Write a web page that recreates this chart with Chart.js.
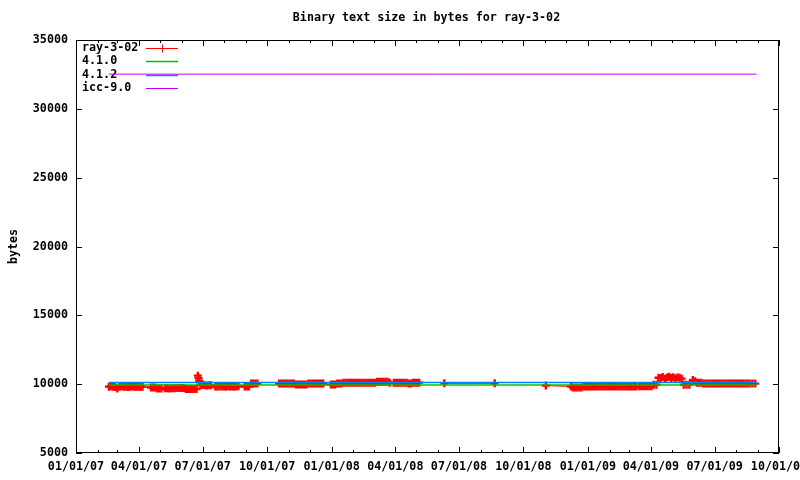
<!DOCTYPE html>
<html>
<head>
<meta charset="utf-8">
<script src="https://cdn.jsdelivr.net/npm/chart.js@4"></script>
<style>
  html, body { margin: 0; padding: 0; background: #fff; }
  canvas { display: block; }
</style>
</head>
<body>
<canvas id="chart" width="800" height="480"></canvas>
<script>
// x values are days since 01/01/07
const rayDays = [
  47,50,53,56,59,62,65,68,71,74,77,80,83,86,89,92,95,
  107,110,113,116,119,122,127,130,133,136,139,142,145,148,151,154,157,160,163,166,169,172,174,175,176,178,181,184,187,190,193,
  196,
  199,202,205,208,211,214,217,220,223,226,229,232,
  237,
  241,244,247,250,253,256,259,
  275,
  290,293,296,299,302,305,308,311,314,317,320,323,326,329,332,335,338,341,344,347,350,353,
  359,
  364,367,370,373,376,379,382,385,388,391,394,397,400,403,406,409,412,415,418,421,424,427,430,433,436,439,442,445,448,
  451,
  454,457,460,463,466,469,472,475,478,481,484,487,490,
  508,
  526,598,
  635,
  671,707,710,713,716,719,722,725,728,731,734,737,740,743,
  746,749,752,755,758,761,764,767,770,773,776,779,782,785,788,791,794,797,800,
  804,807,810,813,816,819,822,825,829,
  832,835,838,841,844,847,850,853,856,859,862,865,868,872,876,881,884,887,890,893,
  896,899,902,905,908,911,914,917,920,923,926,929,932,935,938,941,944,947,950,953,956,959,962,966,970
];
const rayBytes = [
  9820,9840,9820,9800,9680,9820,9840,9820,9820,9800,9820,9840,9820,9820,9820,9800,9820,
  9760,9760,9760,9690,9690,9690,9700,9700,9690,9700,9710,9700,9720,9720,9720,9720,9650,9640,9650,9650,9640,9650,10620,10440,10250,9920,9940,9920,9900,9920,9920,
  null,
  9830,9820,9840,9830,9830,9820,9840,9830,9830,9820,9830,9840,
  null,
  9830,9830,9830,10040,10040,10040,10040,
  null,
  10040,10040,10040,10040,10040,10040,10040,10040,9970,9970,9970,9970,9970,9970,10040,10040,10040,10040,10040,10040,10040,10040,
  null,
  9970,9970,9970,10040,10040,10040,10110,10110,10110,10110,10110,10110,10110,10110,10110,10110,10110,10110,10110,10110,10110,10110,10180,10180,10180,10180,10180,10180,10110,
  null,
  10110,10110,10110,10110,10110,10110,10110,10040,10040,10110,10110,10110,10110,
  null,
  10060,10060,
  null,
  9900,9830,9760,9760,9760,9760,9760,9830,9830,9830,9830,9830,9830,9830,
  9830,9830,9830,9830,9830,9830,9830,9830,9830,9830,9830,9830,9830,9830,9830,9830,9830,9830,9830,
  9850,9850,9850,9850,9850,9850,9850,9960,9960,
  10470,10450,10520,10400,10480,10540,10450,10500,10420,10480,10460,10400,9960,9960,9960,10300,10220,10110,10110,10110,
  10040,10040,10040,10040,10040,10040,10040,10040,10040,10040,10040,10040,10040,10040,10040,10040,10040,10040,10040,10040,10040,10040,10040,10040,10040
];
const refDays = [47, 972];
const gcc410Bytes = [9940, 9940];
const gcc412Bytes = [10130, 10130];
const icc90Bytes = [32520, 32520];

const yTicks = [5000, 10000, 15000, 20000, 25000, 30000, 35000];
const xStart = Date.UTC(2007, 0, 1);
const xEnd = Date.UTC(2009, 9, 1);
const DAY = 86400000;

const FONT = 'DejaVu Sans Mono';
const FSIZE = 11.7;

function pts(days, vals) {
  return days.map((d, i) => ({ x: d, y: vals[i] }));
}

function monthTicks() {
  const out = [];
  for (let y = 2007, m = 0; Date.UTC(y, m, 1) <= xEnd; m++) {
    if (m > 11) { m = 0; y++; }
    out.push({ value: (Date.UTC(y, m, 1) - xStart) / DAY, month: m, year: y });
  }
  return out;
}
const months = monthTicks();

function fmtDay(v) {
  const d = new Date(xStart + v * DAY);
  const p = n => String(n).padStart(2, '0');
  return p(d.getUTCMonth() + 1) + '/' + p(d.getUTCDate()) + '/' + p(d.getUTCFullYear() % 100);
}

const boxPlugin = {
  id: 'gnuplotBox',
  afterLayout(chart) {
    // gnuplot centres the title a bit right of the canvas middle
    const tb = chart.titleBlock;
    if (tb) { tb.left = 73; tb.right = 780; }
  },
  beforeDatasetsDraw(chart) {
    // key, drawn under the curves like gnuplot does
    const { ctx, chartArea: a } = chart;
    ctx.save();
    ctx.font = 'bold ' + FSIZE + 'px "' + FONT + '"';
    ctx.textBaseline = 'middle';
    chart.data.datasets.forEach((ds, i) => {
      const yy = a.top + 8 + i * 13.3;
      ctx.fillStyle = '#000';
      ctx.fillText(ds.label, a.left + 6, yy);
      ctx.strokeStyle = ds.borderColor;
      ctx.lineWidth = ds.borderWidth;
      ctx.beginPath();
      ctx.moveTo(a.left + 70, Math.round(yy) + 0.5);
      ctx.lineTo(a.left + 102, Math.round(yy) + 0.5);
      ctx.stroke();
      if (ds.pointRadius > 0) {
        ctx.beginPath();
        ctx.moveTo(a.left + 86.5, yy - 3.5);
        ctx.lineTo(a.left + 86.5, yy + 4.5);
        ctx.stroke();
      }
    });
    ctx.restore();
  },
  afterDraw(chart) {
    const { ctx, chartArea: a, scales: { x, y } } = chart;
    ctx.save();
    ctx.strokeStyle = '#000';
    ctx.lineWidth = 1;
    ctx.strokeRect(a.left + 0.5, a.top + 0.5, a.right - a.left - 1, a.bottom - a.top - 1);
    ctx.beginPath();
    months.forEach(t => {
      const px = Math.round(x.getPixelForValue(t.value)) + 0.5;
      const len = t.month % 3 === 0 ? 6 : 3;
      ctx.moveTo(px, a.bottom); ctx.lineTo(px, a.bottom - len);
      ctx.moveTo(px, a.top); ctx.lineTo(px, a.top + len);
    });
    yTicks.forEach(v => {
      const py = Math.round(y.getPixelForValue(v)) + 0.5;
      ctx.moveTo(a.left, py); ctx.lineTo(a.left + 6, py);
      ctx.moveTo(a.right, py); ctx.lineTo(a.right - 6, py);
    });
    ctx.stroke();
    ctx.restore();
  }
};

new Chart(document.getElementById('chart'), {
  type: 'line',
  data: {
    datasets: [
      {
        label: 'ray-3-02', data: pts(rayDays, rayBytes),
        borderColor: '#ff0000', backgroundColor: '#ff0000', borderWidth: 1,
        pointStyle: 'cross', pointRadius: 4, pointBorderWidth: 2.4,
        spanGaps: false, order: 4
      },
      {
        label: '4.1.0', data: pts(refDays, gcc410Bytes),
        borderColor: '#00c000', borderWidth: 1.5, pointRadius: 0, order: 3
      },
      {
        label: '4.1.2', data: pts(refDays, gcc412Bytes),
        borderColor: '#0080ff', borderWidth: 1.5, pointRadius: 0, order: 2
      },
      {
        label: 'icc-9.0', data: pts(refDays, icc90Bytes),
        borderColor: '#c000ff', borderWidth: 1, pointRadius: 0, order: 1
      }
    ]
  },
  options: {
    responsive: false,
    animation: false,
    devicePixelRatio: 1,
    layout: { padding: { left: 0, right: 21, top: 0, bottom: 0 } },
    plugins: {
      legend: { display: false },
      tooltip: { enabled: false },
      title: {
        display: true,
        text: 'Binary text size in bytes for ray-3-02',
        color: '#000',
        font: { family: FONT, size: FSIZE, weight: 'bold' },
        padding: { top: 11, bottom: 14.96 }
      }
    },
    scales: {
      x: {
        type: 'linear',
        min: 0,
        max: (xEnd - xStart) / DAY,
        grid: { display: false, drawTicks: false },
        border: { display: false },
        afterBuildTicks: s => { s.ticks = months.map(t => ({ value: t.value })); },
        afterFit: s => { s.height = 27; s.paddingLeft = 0; s.paddingRight = 0; },
        ticks: {
          autoSkip: false, maxRotation: 0, minRotation: 0, padding: 7,
          color: '#000',
          font: { family: FONT, size: FSIZE, weight: 'bold' },
          callback: v => {
            const t = months.find(m => m.value === v);
            return t && t.month % 3 === 0 ? fmtDay(v) : '';
          }
        }
      },
      y: {
        min: 5000,
        max: 35000,
        grid: { display: false, drawTicks: false },
        border: { display: false },
        afterBuildTicks: s => { s.ticks = yTicks.map(v => ({ value: v })); },
        afterFit: s => { s.width = 76; },
        title: {
          display: true, text: 'bytes', color: '#000',
          font: { family: FONT, size: FSIZE, weight: 'bold' },
          padding: { top: 7, bottom: 0 }
        },
        ticks: {
          padding: 8, color: '#000',
          font: { family: FONT, size: FSIZE, weight: 'bold' },
          callback: v => String(v)
        }
      }
    }
  },
  plugins: [boxPlugin]
});
</script>
</body>
</html>
